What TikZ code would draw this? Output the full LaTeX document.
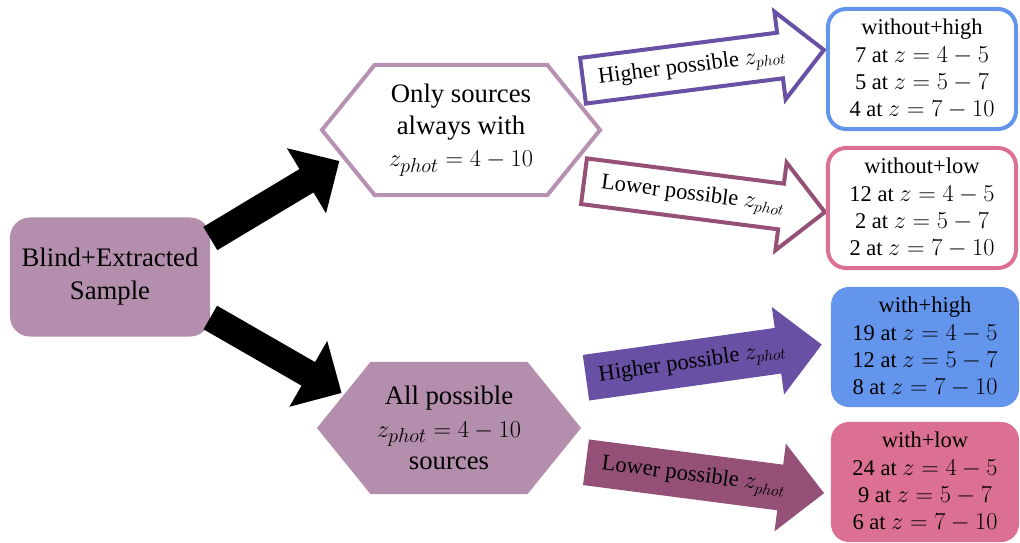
\documentclass[tikz,border=0pt]{standalone}
\usepackage{fontspec}
\setmainfont{Liberation Serif}
\usepackage{tikz}
\usetikzlibrary{shapes.symbols,shapes.arrows,arrows.meta,positioning,calc}

\definecolor{mauve}{RGB}{180,142,173}
\definecolor{hexline}{RGB}{183,145,178}
\definecolor{hipurple}{RGB}{104,80,164}
\definecolor{lowine}{RGB}{148,80,118}
\definecolor{cblue}{RGB}{100,149,237}
\definecolor{cpink}{RGB}{219,112,147}

\tikzset{
  hexbox/.style={signal, signal to=west and east, signal pointer angle=102, align=center, inner sep=0pt, font=\fontsize{19}{23}\selectfont},
  resbox/.style={rounded corners=0.45cm, minimum width=4.7cm, minimum height=3cm, align=center, font=\fontsize{16}{19.5}\selectfont, line width=0.1cm},
  blockarrow/.style={single arrow, anchor=tail, single arrow head extend=0.53cm, inner ysep=0.235cm, text height=0.42cm, text depth=0.16cm, font=\fontsize{16}{19}\selectfont, line width=0.1cm},
  fatarrow/.style={line width=0.68cm, -{Triangle[length=0.96cm, width=1.84cm]}},
}

\begin{document}
\begin{tikzpicture}[x=0.025cm, y=-0.025cm]
    \useasboundingbox (0,0) rectangle (1020,543);

    % Start sample
    \node[fill=mauve, rounded corners=0.5cm, minimum width=5cm, minimum height=2.975cm, align=center, font=\fontsize{19}{23.5}\selectfont] (blind) at (110,277) {Blind+Extracted\\Sample};

    % Two selections
    \node[hexbox, draw=hexline, line width=0.1cm, minimum width=6.95cm, minimum height=3.25cm] (only) at (461,130) {Only sources\\always with\\$z_{phot}=4-10$};
    \node[hexbox, fill=mauve, minimum width=6.6cm, minimum height=3.3cm] (allp) at (449,428) {All possible\\$z_{phot}=4-10$\\sources};

    % Higher / lower arrows
    \node[blockarrow, draw=hipurple, fill=white, rotate=7.3, minimum height=6.07cm] (hiA) at (581,81) {Higher possible $z_{phot}$};
    \node[blockarrow, draw=lowine, fill=white, rotate=-7.3, minimum height=6.07cm] (loA) at (582,181) {Lower possible $z_{phot}$};
    \node[blockarrow, fill=hipurple, rotate=8, minimum height=5.95cm] (hiB) at (584,378) {Higher possible $z_{phot}$};
    \node[blockarrow, fill=lowine, rotate=-7.4, minimum height=6cm] (loB) at (584,462) {Lower possible $z_{phot}$};

    % Counts
    \node[resbox, draw=cblue, fill=white] (wohigh) at (922,69) {without+high\\7 at $z=4-5$\\5 at $z=5-7$\\4 at $z=7-10$};
    \node[resbox, draw=cpink, fill=white] (wolow) at (922,208) {without+low\\12 at $z=4-5$\\2 at $z=5-7$\\2 at $z=7-10$};
    \node[resbox, fill=cblue] (whigh) at (925,347) {with+high\\19 at $z=4-5$\\12 at $z=5-7$\\8 at $z=7-10$};
    \node[resbox, fill=cpink] (wlow) at (925,482) {with+low\\24 at $z=4-5$\\9 at $z=5-7$\\6 at $z=7-10$};

    % Arrows
    \draw[fatarrow] (blind.21) -- ([shift={(20,31)}]only.west);
    \draw[fatarrow] (blind.-22) -- ([shift={(25,-35)}]allp.west);
\end{tikzpicture}
\end{document}
